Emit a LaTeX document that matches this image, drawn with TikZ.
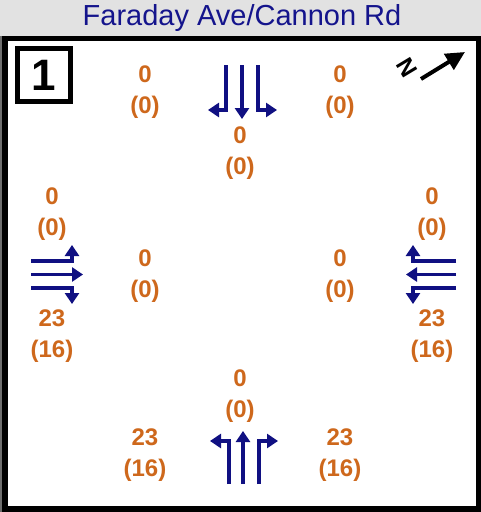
\documentclass[tikz,border=0pt]{standalone}
\usepackage{fontspec}
\setmainfont{Liberation Sans}
\usetikzlibrary{arrows.meta}
\definecolor{navyc}{RGB}{16,16,130}
\definecolor{titlec}{RGB}{20,20,140}
\definecolor{orangec}{RGB}{206,104,28}
\definecolor{barc}{RGB}{226,226,226}
\definecolor{edgec}{RGB}{110,110,110}
\tikzset{
  vol/.style={text=orangec, font=\fontsize{24}{31}\selectfont\bfseries, align=center, inner sep=0pt},
  lane/.style={draw=navyc, line width=3.8pt, -{Triangle[length=11pt,width=14pt]}},
}
\begin{document}
\begin{tikzpicture}[x=1pt,y=-1pt]
\useasboundingbox (0,0) rectangle (481,512);
% background
\fill[edgec] (0,0) rectangle (481,512);
\fill[barc] (0,0) rectangle (481,36);
\node[text=titlec, font=\fontsize{29}{30}\selectfont] (title) at (242,18) {Faraday Ave/Cannon Rd};
% frame
\fill[black] (2,36) rectangle (481,512);
\fill[white] (8,41) rectangle (476,506);
% box 1
\node[draw=black, line width=5pt, minimum width=53pt, minimum height=53pt, inner sep=0pt,
      font=\fontsize{44}{44}\selectfont\bfseries] (num) at (44,75) {1};
% north arrow
\coordinate (na) at (421,79);
\coordinate (nb) at (465,52);
\draw[line width=4pt, -{Triangle[length=19pt,width=18pt]}] (na) -- (nb);
\node[font=\fontsize{24}{24}\selectfont\bfseries, rotate=-59, inner sep=0pt] (nlabel) at (407,68) {N};
% volumes
\node[vol] (v1) at (145,92) {0\\(0)};
\node[vol] (v2) at (340,92) {0\\(0)};
\node[vol] (v3) at (240,153) {0\\(0)};
\node[vol] (v4) at (52,214) {0\\(0)};
\node[vol] (v5) at (52,336) {23\\(16)};
\node[vol] (v6) at (145,276) {0\\(0)};
\node[vol] (v7) at (340,276) {0\\(0)};
\node[vol] (v8) at (432,214) {0\\(0)};
\node[vol] (v9) at (432,336) {23\\(16)};
\node[vol] (v10) at (240,396) {0\\(0)};
\node[vol] (v11) at (145,455) {23\\(16)};
\node[vol] (v12) at (340,455) {23\\(16)};
% southbound (top)
\draw[lane] (226,65) -- (226,110) -- (208,110);
\draw[lane] (242,65) -- (242,119);
\draw[lane] (258,65) -- (258,110) -- (277,110);
% northbound (bottom)
\draw[lane] (229,484) -- (229,441) -- (210,441);
\draw[lane] (243,484) -- (243,431);
\draw[lane] (259,484) -- (259,441) -- (278,441);
% eastbound (left)
\draw[lane] (31,261) -- (72,261) -- (72,245);
\draw[lane] (31,274.5) -- (83,274.5);
\draw[lane] (31,288) -- (72,288) -- (72,304);
% westbound (right)
\draw[lane] (456,261) -- (413,261) -- (413,245);
\draw[lane] (456,274.5) -- (406,274.5);
\draw[lane] (456,288) -- (413,288) -- (413,304);
\end{tikzpicture}
\end{document}
